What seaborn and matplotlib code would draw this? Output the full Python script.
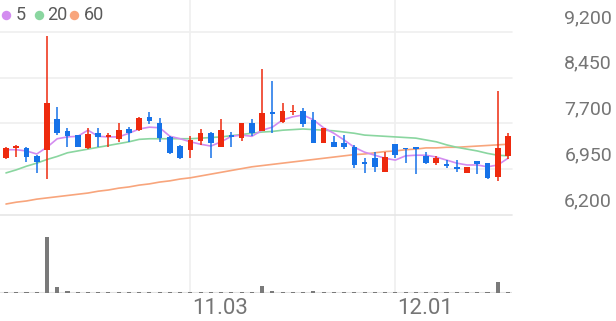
import matplotlib
matplotlib.use("Agg")
import matplotlib.pyplot as plt
from matplotlib.lines import Line2D
import seaborn as sns
import pandas as pd
import numpy as np

# ---------------- data ----------------
opens  = [7130, 7300, 7300, 7170, 7270, 7770, 7580, 7510, 7300, 7540,
          7480, 7450, 7610, 7590, 7810, 7710, 7480, 7330, 7270, 7410,
          7540, 7310, 7510, 7460, 7710, 7580, 7890, 7720, 7890, 7900,
          7760, 7380, 7400, 7380, 7310, 7070, 7130, 6910, 7360, 7300,
          7310, 7170, 7050, 7040, 6990, 6890, 7090, 7050, 6820, 7170]
highs  = [7310, 7350, 7310, 7180, 9130, 7970, 7630, 7510, 7630, 7630,
          7540, 7710, 7640, 7810, 7890, 7790, 7490, 7350, 7490, 7610,
          7560, 7770, 7560, 7710, 7770, 8590, 8400, 8040, 8000, 7950,
          7890, 7630, 7490, 7510, 7350, 7130, 7230, 7230, 7360, 7300,
          7310, 7230, 7170, 7100, 7100, 6990, 7090, 7050, 8230, 7540]
lows   = [7120, 7150, 7070, 6890, 6790, 7510, 7310, 7310, 7280, 7310,
          7310, 7400, 7400, 7580, 7690, 7400, 7200, 7120, 7130, 7350,
          7130, 7310, 7310, 7410, 7490, 7580, 7540, 7710, 7840, 7640,
          7380, 7380, 7310, 7280, 6970, 6890, 6910, 6910, 7130, 7050,
          6870, 7040, 7020, 6970, 6910, 6890, 6870, 6790, 6760, 7120]
closes = [7300, 7330, 7150, 7070, 8040, 7540, 7490, 7310, 7530, 7480,
          7510, 7590, 7540, 7790, 7740, 7460, 7220, 7130, 7430, 7540,
          7380, 7590, 7480, 7710, 7540, 7870, 7860, 7900, 7900, 7690,
          7380, 7630, 7310, 7310, 7020, 7040, 6990, 7150, 7180, 7280,
          7280, 7050, 7130, 7000, 6950, 6990, 7040, 6810, 7300, 7490]
volumes = [90, 100, 90, 100, 5600, 600, 250, 120, 90, 100,
           90, 100, 90, 100, 90, 100, 90, 100, 90, 100,
           90, 100, 80, 90, 100, 700, 200, 100, 90, 100,
           250, 90, 100, 90, 100, 90, 100, 90, 100, 90,
           100, 90, 100, 90, 100, 90, 100, 150, 1100, 150]
ma5  = [7270, 7270, 7250, 7200, 7310, 7450, 7480, 7490, 7590, 7490,
        7480, 7480, 7540, 7610, 7640, 7630, 7490, 7450, 7400, 7360,
        7330, 7400, 7490, 7510, 7490, 7590, 7640, 7760, 7810, 7840,
        7760, 7630, 7540, 7430, 7310, 7230, 7180, 7130, 7100, 7170,
        7180, 7180, 7150, 7100, 7050, 7020, 7020, 6990, 7020, 7130]
ma20 = [6890, 6940, 7000, 7050, 7110, 7160, 7220, 7250, 7280, 7310,
        7340, 7370, 7400, 7440, 7450, 7450, 7450, 7450, 7450, 7460,
        7470, 7480, 7500, 7520, 7540, 7560, 7570, 7590, 7600, 7610,
        7600, 7590, 7580, 7560, 7540, 7510, 7500, 7490, 7480, 7470,
        7460, 7430, 7400, 7350, 7310, 7280, 7250, 7210, 7180, 7170]
ma60 = [6380, 6410, 6430, 6460, 6480, 6500, 6520, 6540, 6560, 6590,
        6610, 6640, 6660, 6690, 6710, 6740, 6760, 6790, 6810, 6840,
        6870, 6900, 6930, 6960, 6990, 7010, 7030, 7050, 7070, 7090,
        7110, 7130, 7150, 7170, 7190, 7200, 7220, 7240, 7250, 7270,
        7280, 7300, 7300, 7310, 7310, 7320, 7330, 7340, 7350, 7360]
date_ticks = [18, 38]
date_labels = ["11.03", "12.01"]
price_ticks = [9200, 8450, 7700, 6950, 6200]
ma_names = ["5", "20", "60"]

# ---------------- styling ----------------
RED = "#ee2a0e"
BLUE = "#1672e8"
MA_COLORS = ["#d38cf0", "#8ad6a0", "#f8a57c"]
GRID = "#efefef"
TEXT = "#757575"
LEG_TEXT = "#5a5a5a"

sns.set_theme(style="white")
plt.rcParams["font.family"] = ["Roboto", "DejaVu Sans"]

W, H = 616, 321
fig = plt.figure(figsize=(W / 100, H / 100), dpi=100)

def fx(px):
    return px / W

def fy(py):
    return 1 - py / H

plot_right = 512
n = len(closes)
idx = np.arange(n)
step = 10.245
x0 = -6 / step
x1 = (plot_right - 6) / step

# background axes for vertical grid lines spanning both panels
bg = fig.add_axes([0, fy(293), fx(plot_right), 293 / H])
bg.set_xlim(x0, x1)
bg.set_ylim(0, 1)
bg.axis("off")
for t in date_ticks:
    bg.axvline(t, color=GRID, lw=1.2, zorder=0)

# price axes
ax = fig.add_axes([0, fy(215), fx(plot_right), (215 - 32) / H])
ax.patch.set_alpha(0)
ax.set_xlim(x0, x1)
ax.set_ylim(6200, 9200)
for s in ax.spines.values():
    s.set_visible(False)
ax.set_xticks([])
ax.set_yticks([])
for p in price_ticks:
    col = "#e6e6e6" if p == 6200 else GRID
    ax.axhline(p, color=col, lw=1.2, zorder=0, clip_on=False)

df = pd.DataFrame({"idx": idx, "ma5": ma5, "ma20": ma20, "ma60": ma60})
for col, c in zip(["ma60", "ma20", "ma5"], MA_COLORS[::-1]):
    sns.lineplot(data=df, x="idx", y=col, ax=ax, color=c, lw=1.2, zorder=2)
ax.set_xlabel("")
ax.set_ylabel("")

colors = [RED if c >= o else BLUE for o, c in zip(opens, closes)]
ax.vlines(idx, lows, highs, colors=colors, lw=1.1, zorder=3)
bottoms = [min(o, c) for o, c in zip(opens, closes)]
heights = [max(abs(c - o), 12) for o, c in zip(opens, closes)]
ax.bar(idx, heights, bottom=bottoms, width=0.55, color=colors, zorder=4, linewidth=0)

# price labels (above grid lines, right side)
for p in price_ticks:
    ax.annotate(f"{p:,}", xy=(1, p), xycoords=("axes fraction", "data"),
                xytext=(100, 14), textcoords="offset pixels",
                ha="right", va="center", fontsize=14, color=TEXT,
                annotation_clip=False)

# volume axes
vax = fig.add_axes([0, fy(293), fx(plot_right), (293 - 220) / H])
vax.patch.set_alpha(0)
vax.set_xlim(x0, x1)
vax.set_ylim(0, 7300)
for s in vax.spines.values():
    s.set_visible(False)
vax.set_yticks([])
vax.set_xticks([])
vax.bar(idx, volumes, width=0.4, color="#7a7a7a", linewidth=0, zorder=3)
vax.axhline(0, color="#e2e2e2", lw=1.5, zorder=2)
for t, lab in zip(date_ticks, date_labels):
    vax.annotate(lab, xy=(t, 0), xycoords="data", xytext=(2, -16),
                 textcoords="offset pixels", ha="left", va="center",
                 fontsize=16, color=TEXT, annotation_clip=False)

# legend
cx = [6, 39, 74]
tx = [16, 47, 84]
for name, c, a, b in zip(ma_names, MA_COLORS, cx, tx):
    fig.add_artist(Line2D([fx(a)], [fy(15)], marker="o", markersize=6.8,
                          color=c, markeredgewidth=0, linestyle="none",
                          transform=fig.transFigure))
    fig.text(fx(b), fy(15), name, color=LEG_TEXT, fontsize=13, ha="left",
             va="center")

fig.savefig("out.png", dpi=100)
